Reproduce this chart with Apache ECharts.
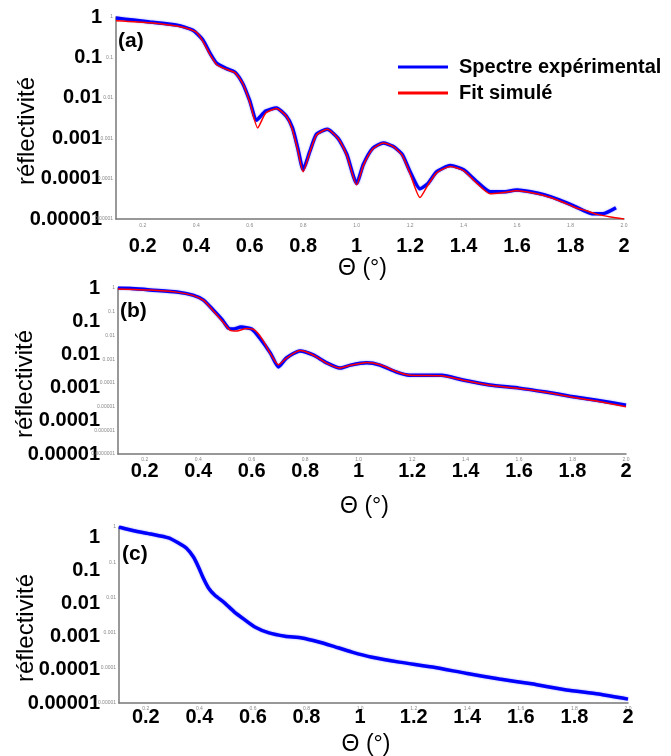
<!DOCTYPE html>
<html><head><meta charset="utf-8">
<script src="https://cdn.jsdelivr.net/npm/echarts@6/dist/echarts.min.js"></script>
<style>html,body{margin:0;padding:0;background:#fff}#c{width:671px;height:756px}</style>
</head><body><div id="c"></div>
<script>
// ---------- data ----------
// Panel (a)
const aExpTheta = [0.10,0.164,0.227,0.328,0.388,0.425,0.452,0.477,0.515,0.545,0.575,0.60,0.626,0.66,0.70,0.737,0.76,0.78,0.80,0.825,0.85,0.89,0.93,0.963,1.0,1.025,1.06,1.10,1.136,1.17,1.20,1.237,1.267,1.30,1.35,1.40,1.45,1.50,1.547,1.60,1.65,1.70,1.76,1.82,1.88,1.92,1.97];
const aExpR = [0.94,0.84,0.75,0.63,0.47,0.27,0.126,0.071,0.052,0.043,0.022,0.0085,0.0028,0.0047,0.0056,0.0035,0.0018,0.00056,0.000166,0.00047,0.00126,0.00166,0.001,0.0004,0.000076,0.000224,0.00056,0.00076,0.00063,0.0004,0.000148,0.000056,0.000076,0.000148,0.00021,0.000166,0.000083,0.000047,0.000047,0.000052,0.000047,0.00004,0.0000295,0.00002,0.0000135,0.0000135,0.000019];
const aFitTheta = [0.10,0.227,0.35,0.40,0.425,0.452,0.477,0.515,0.545,0.575,0.60,0.63,0.66,0.70,0.737,0.76,0.78,0.80,0.825,0.85,0.89,0.93,0.963,1.0,1.025,1.06,1.10,1.136,1.17,1.20,1.237,1.267,1.30,1.35,1.40,1.45,1.50,1.547,1.60,1.65,1.70,1.76,1.82,1.86,1.90,1.95,2.0];
const aFitR = [0.81,0.72,0.56,0.42,0.25,0.117,0.066,0.05,0.042,0.022,0.0079,0.0018,0.0042,0.0054,0.0035,0.0016,0.0005,0.000148,0.00045,0.0012,0.00166,0.001,0.00038,0.00007,0.00021,0.00054,0.00076,0.00063,0.00038,0.000132,0.000034,0.00007,0.00014,0.0002,0.000158,0.000076,0.000042,0.000045,0.00005,0.000045,0.000038,0.000028,0.000019,0.000016,0.000013,0.0000112,0.00001];
// Panel (b)
const bExpTheta = [0.10,0.145,0.22,0.32,0.38,0.42,0.456,0.49,0.513,0.53,0.56,0.60,0.63,0.67,0.70,0.73,0.78,0.83,0.88,0.93,0.97,1.03,1.08,1.14,1.19,1.31,1.39,1.49,1.60,1.70,1.79,1.89,2.0];
const bExpR = [1.0,0.98,0.83,0.68,0.5,0.31,0.118,0.045,0.02,0.0186,0.0224,0.0186,0.0078,0.0018,0.00047,0.00112,0.0022,0.0015,0.0007,0.00042,0.00056,0.0007,0.00056,0.00029,0.00021,0.00021,0.000132,0.000081,0.00006,0.000041,0.0000275,0.0000186,0.0000115];
const bFitTheta = [0.10,0.22,0.32,0.38,0.42,0.456,0.49,0.52,0.545,0.58,0.61,0.64,0.67,0.70,0.73,0.78,0.83,0.88,0.93,0.97,1.03,1.08,1.14,1.19,1.31,1.39,1.49,1.60,1.70,1.79,1.89,2.0];
const bFitR = [0.91,0.82,0.67,0.49,0.3,0.11,0.04,0.0165,0.0155,0.0195,0.017,0.0068,0.0017,0.00058,0.0011,0.0023,0.0015,0.00068,0.00042,0.00055,0.00072,0.00058,0.0003,0.00021,0.0002,0.00013,0.000079,0.000058,0.00004,0.000026,0.000017,0.0000098];
// Panel (c)
const cExpTheta = [0.10,0.155,0.22,0.285,0.322,0.352,0.378,0.397,0.415,0.434,0.457,0.495,0.53,0.57,0.607,0.66,0.72,0.783,0.846,0.895,0.97,1.045,1.146,1.27,1.395,1.52,1.64,1.77,1.89,2.0];
const cExpR = [1.0,0.78,0.63,0.49,0.35,0.25,0.14,0.072,0.035,0.0186,0.0117,0.0069,0.0039,0.0023,0.00145,0.00098,0.00079,0.0007,0.00054,0.00042,0.00028,0.0002,0.000145,0.000105,0.00007,0.000048,0.000035,0.0000235,0.000018,0.0000129];

// ---------- tick labels ----------
const xTickValues = [0.2,0.4,0.6,0.8,1.0,1.2,1.4,1.6,1.8,2.0];
const xBoldLabels = ['0.2','0.4','0.6','0.8','1','1.2','1.4','1.6','1.8','2'];
const xTinyLabels = ['0.2','0.4','0.6','0.8','1.0','1.2','1.4','1.6','1.8','2.0'];
const yTickLabels = ['1','0.1','0.01','0.001','0.0001','0.00001','0.000001','0.0000001']; // index = -exponent
const seriesNames = ['Spectre expérimental','Fit simulé'];
const panelLabels = ['(a)','(b)','(c)'];

const FONT = '"Liberation Sans", Arial, sans-serif';
const BLUE = '#0000ff', RED = '#ff0000', AXIS = '#777777';

function zip(xs, ys){ return xs.map((x,i)=>[x, ys[i]]); }
function xLabel(arr){ return v => { const i = xTickValues.findIndex(t => Math.abs(t - v) < 1e-6); return i < 0 ? '' : arr[i]; }; }
function yLabel(v){ const e = Math.log10(v); const r = Math.round(e); if (Math.abs(e - r) > 1e-6) return ''; const s = yTickLabels[-r]; return s === undefined ? '' : s; }

const grids = [
  {left:116, top:17, width:508, height:202},
  {left:118, top:288, width:508, height:166},
  {left:119, top:527, width:509, height:176}
].map(g => Object.assign(g, {containLabel:false, outerBoundsMode:'none'}));
const boldXMargin = [17, 7, 4];
const tinyXMargin = [4, 3, 3];
const thetaGap = [38, 41, 30];
const boldYMargin = [14, 18, 19];
const nameYGap = [77, 81, 81];
const boldYMax = [1, 1, 2];
const tinyYMin = [1e-5, 1e-7, 1e-5];

const xAxis = [], yAxis = [];
grids.forEach((g, i) => {
  xAxis.push({
    gridIndex:i, type:'value', position:'bottom', min:0.1, max:2.0, interval:0.1,
    axisLine:{show:true, onZero:false, lineStyle:{color:AXIS, width:1.5}},
    axisTick:{show:false}, splitLine:{show:false},
    axisLabel:{fontSize:5, color:'#888', margin:tinyXMargin[i], fontFamily:FONT, formatter:xLabel(xTinyLabels)},
    name:'Θ (°)', nameLocation:'middle', nameGap:thetaGap[i], nameMoveOverlap:false,
    nameTextStyle:{fontSize:23, color:'#000', fontFamily:FONT, padding:[0,15,0,0]}
  });
  xAxis.push({
    gridIndex:i, type:'value', position:'bottom', min:0.1, max:2.0, interval:0.1,
    axisLine:{show:false}, axisTick:{show:false}, splitLine:{show:false},
    axisLabel:{fontSize:20, fontWeight:'bold', color:'#000', margin:boldXMargin[i], fontFamily:FONT, formatter:xLabel(xBoldLabels)}
  });
  yAxis.push({
    gridIndex:i, type:'log', logBase:10, position:'left', min:1e-5, max:boldYMax[i],
    axisLine:{show:true, onZero:false, lineStyle:{color:AXIS, width:1.5}},
    axisTick:{show:false}, splitLine:{show:false},
    axisLabel:{fontSize:20, fontWeight:'bold', color:'#000', margin:boldYMargin[i], fontFamily:FONT, formatter:yLabel},
    name:'réflectivité', nameLocation:'middle', nameGap:nameYGap[i], nameMoveOverlap:false,
    nameTextStyle:{fontSize:24, color:'#000', fontFamily:FONT, padding:[0,26,0,0]}
  });
  yAxis.push({
    gridIndex:i, type:'log', logBase:10, position:'left', min:tinyYMin[i], max:1,
    axisLine:{show:false}, axisTick:{show:false}, splitLine:{show:false},
    axisLabel:{fontSize:5, color:'#888', margin:3, fontFamily:FONT, formatter:yLabel}
  });
});

function expSeries(name, xi, yi, data){
  return {name, type:'line', xAxisIndex:xi, yAxisIndex:yi, data, symbol:'none', z:2, smooth:0.2,
    lineStyle:{color:BLUE, width:3.5, shadowColor:'rgba(80,80,255,0.6)', shadowBlur:2}, itemStyle:{color:BLUE}};
}
function fitSeries(name, xi, yi, data){
  return {name, type:'line', xAxisIndex:xi, yAxisIndex:yi, data, symbol:'none', z:3, smooth:0.2,
    lineStyle:{color:RED, width:1.5}, itemStyle:{color:RED}};
}

const option = {
  animation:false,
  backgroundColor:'#ffffff',
  textStyle:{fontFamily:FONT},
  grid:grids,
  xAxis, yAxis,
  legend:{
    data:seriesNames,
    icon:'rect',
    orient:'vertical', left:393, top:52, itemWidth:50, itemHeight:3, itemGap:6,
    textStyle:{fontSize:20, fontWeight:'bold', color:'#000', fontFamily:FONT, padding:[0,0,0,6], lineHeight:20}
  },
  graphic: panelLabels.map((t, i) => ({
    type:'text', left:[118,120,122][i], top:[31,301,544][i],
    style:{text:t, fontSize:21, fontWeight:'bold', fill:'#000', fontFamily:FONT}
  })),
  series:[
    expSeries(seriesNames[0], 0, 0, zip(aExpTheta, aExpR)),
    fitSeries(seriesNames[1], 0, 0, zip(aFitTheta, aFitR)),
    expSeries(seriesNames[0], 2, 3, zip(bExpTheta, bExpR)),
    fitSeries(seriesNames[1], 2, 3, zip(bFitTheta, bFitR)),
    expSeries(seriesNames[0], 4, 5, zip(cExpTheta, cExpR))
  ]
};
const chart = echarts.init(document.getElementById('c'), null, {renderer:'canvas'});
chart.setOption(option);
</script></body></html>
